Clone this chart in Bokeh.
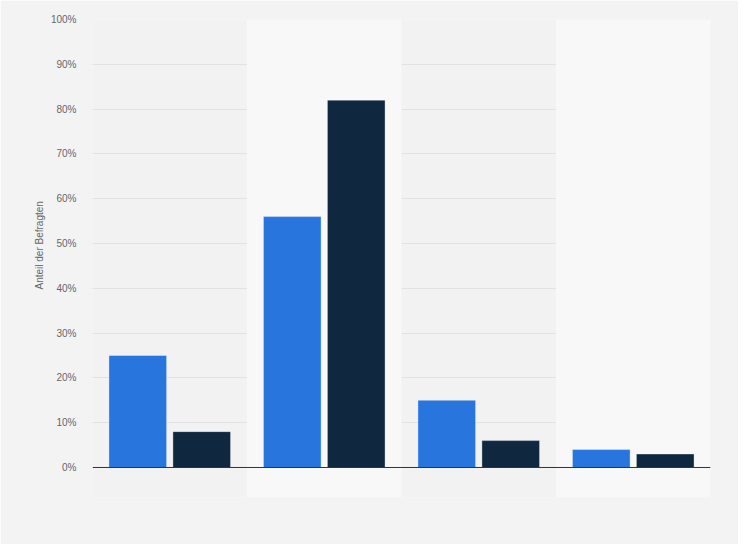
from bokeh.plotting import figure
from bokeh.models import FactorRange, Range1d, FixedTicker, Span, Title, ColumnDataSource
from bokeh.transform import dodge
from bokeh.embed import file_html
from bokeh.resources import INLINE

categories = ["Kategorie 1", "Kategorie 2", "Kategorie 3", "Kategorie 4"]
series_a = [25, 56, 15, 4]
series_b = [8, 82, 6, 3]
y_ticks = [0, 10, 20, 30, 40, 50, 60, 70, 80, 90, 100]
y_tick_labels = ["0%", "10%", "20%", "30%", "40%", "50%", "60%", "70%", "80%", "90%", "100%"]
y_title = "Anteil der Befragten"

Y_MIN = -6.7
Y_MAX = 100

p = figure(width=738, height=544, output_backend="svg", toolbar_location=None,
           x_range=FactorRange(factors=categories, range_padding=0),
           y_range=Range1d(Y_MIN, Y_MAX),
           min_border_left=92, min_border_right=28, min_border_top=19, min_border_bottom=47)
p.background_fill_color = "#f2f2f2"
p.border_fill_color = "#f3f3f3"
p.outline_line_color = None

# alternating bands
band_src = ColumnDataSource(dict(x=[categories[1], categories[3]]))
p.vbar(x="x", width=1, bottom=Y_MIN, top=Y_MAX, source=band_src,
       fill_color="#f8f8f8", line_color=None)

src = ColumnDataSource(dict(cat=categories, a=series_a, b=series_b))
p.vbar(x=dodge("cat", -0.207, range=p.x_range), top="a", bottom=0, width=0.373, source=src,
       fill_color="#2876dd", line_color="#ffffff", line_alpha=0.35, line_width=1)
p.vbar(x=dodge("cat", 0.207, range=p.x_range), top="b", bottom=0, width=0.373, source=src,
       fill_color="#0f2840", line_color="#ffffff", line_alpha=0.35, line_width=1)

p.add_layout(Span(location=0, dimension="width", line_color="#333333", line_width=1))

p.xaxis.visible = False
p.xgrid.visible = False

yax = p.yaxis[0]
yax.ticker = FixedTicker(ticks=y_ticks)
yax.major_label_overrides = {t: l for t, l in zip(y_ticks, y_tick_labels)}
yax.axis_line_color = None
yax.major_tick_line_color = None
yax.minor_tick_line_color = None
yax.major_tick_out = 0
yax.major_tick_in = 0
yax.major_label_standoff = 16
yax.major_label_text_font = "Liberation Sans"
yax.major_label_text_font_size = "10px"
yax.major_label_text_color = "#666666"

p.ygrid.ticker = FixedTicker(ticks=y_ticks[1:])
p.ygrid.grid_line_color = "#d2d2d2"
p.ygrid.grid_line_dash = "1 1"
p.ygrid.grid_line_width = 1

p.add_layout(Title(text=y_title, align="left", offset=208, standoff=6,
                   text_font="Liberation Sans", text_font_size="10px",
                   text_font_style="normal", text_color="#666666"), "left")

html = file_html(p, INLINE)
html = html.replace("<body>", '<body style="background:#f3f3f3">', 1)
open("out.html", "w").write(html)
